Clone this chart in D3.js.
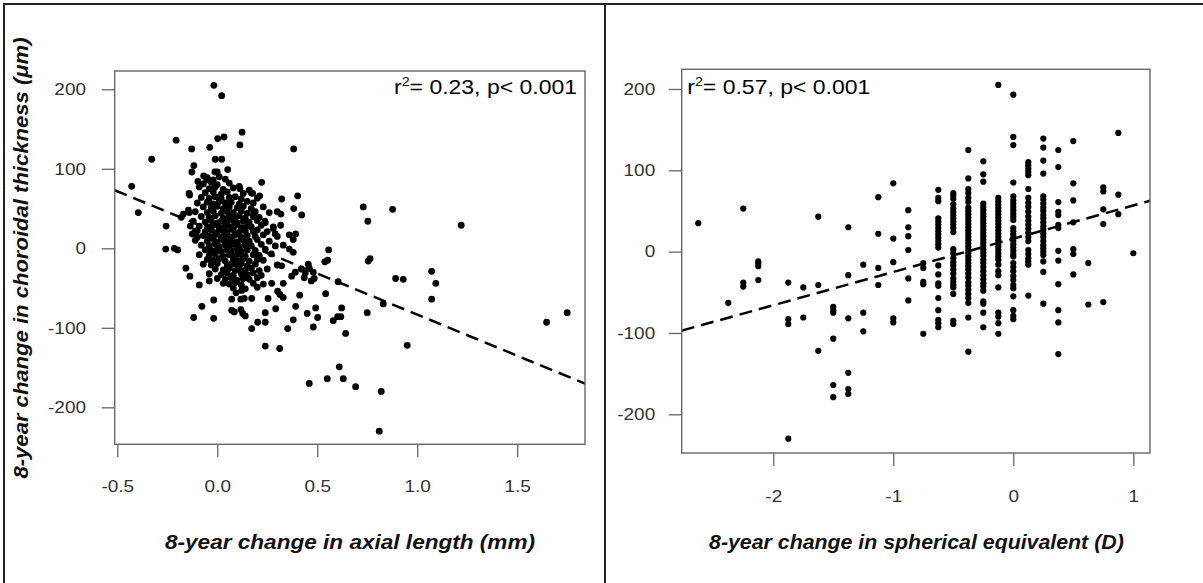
<!DOCTYPE html>
<html><head><meta charset="utf-8">
<script src="https://cdn.jsdelivr.net/npm/d3@7"></script>
<style>
html,body{margin:0;padding:0;background:#fff;}
svg{display:block;}
text{font-family:"Liberation Sans",Arial,Helvetica,sans-serif;}
</style></head><body>
<svg id="chart" width="1203" height="583"></svg>
<script>
// ---------------- DATA ----------------
// Left panel: 8-year change in axial length (mm) vs change in choroidal thickness (µm)
const axialOuter = [
 [-0.017,205],[0.022,192],[-0.206,136],[-0.328,112],[-0.428,78],[-0.395,45],[-0.256,28],[-0.258,-1],[-0.215,0],[-0.198,-2],
 [-0.128,125],[-0.038,127],[0.002,138],[0.034,140],[0.124,146],[0.113,130],[0.382,125],
 [-0.117,104],[-0.127,96],[-0.097,84],[-0.141,69],[-0.138,67],[-0.068,91],[-0.053,86],[-0.01,112],[0.022,112],[-0.012,96],[0.0,96],
 [0.052,99],[0.222,83],[0.113,75],[0.16,73],[0.177,69],[0.212,66],[0.322,62],[0.402,66],[0.382,50],[0.422,42],[0.3,46],[0.318,43],
 [0.238,34],[0.183,44],[0.317,29],[0.392,18],[0.28,25],[0.29,18],[0.36,17],[0.38,11],[0.36,-1],[0.38,-5],
 [0.557,-2],[0.552,-15],[0.538,-17],[-0.17,43],[-0.18,39],[-0.14,45],[-0.145,48],[-0.135,28],[-0.125,18],[-0.1,14],[-0.11,22],
 [0.73,52],[0.877,49],[0.753,34],[1.22,29],
 [-0.157,-25],[-0.137,-35],[-0.09,-46],[-0.04,-41],[-0.018,-65],[-0.077,-73],[-0.118,-87],[-0.018,-88],
 [0.072,-64],[0.118,-64],[0.135,-63],[0.172,-63],[0.094,-56],[0.122,-53],[0.072,-78],[0.085,-80],[0.118,-77],[0.127,-82],[0.14,-85],
 [0.172,-101],[0.202,-93],[0.24,-93],[0.24,-81],[0.24,-123],[0.312,-126],[0.254,-63],[0.272,-44],[0.292,-76],[0.302,-54],[0.313,-58],
 [0.33,-62],[0.33,-44],[0.322,-22],[0.352,-101],[0.38,-90],[0.392,-73],[0.412,-59],
 [0.39,-30],[0.42,-26],[0.44,-31],[0.46,-25],[0.48,-30],[0.485,-38],[0.455,-20],[0.435,-37],[0.47,-41],[0.372,-35],
 [0.45,-82],[0.48,-99],[0.492,-75],[0.502,-87],[0.46,-170],[0.542,-57],[0.604,-42],[0.55,-164],[0.61,-149],[0.63,-164],[0.692,-174],
 [0.58,-91],[0.602,-86],[0.618,-86],[0.622,-75],[0.642,-107],
 [0.755,-16],[0.764,-13],[0.75,-81],[0.83,-70],[0.892,-38],[0.93,-39],[0.95,-122],[1.072,-29],[1.093,-44],[1.072,-64],
 [0.82,-180],[0.81,-230],[1.647,-93],[1.75,-81]
];
const axialCore = [
 [-0.05,89],[-0.02,86],[0.01,90],[0.04,87],
 [-0.07,81],[-0.03,83],[0.0,80],[0.06,82],
 [-0.09,77],[-0.04,75],[-0.01,77],[0.03,74],[0.08,76],[0.11,78],
 [-0.06,70],[-0.02,71],[0.02,68],[0.05,71],[0.13,69],[0.17,70],
 [-0.08,64],[-0.04,63],[-0.01,65],[0.02,62],[0.06,64],[0.09,65],[0.12,62],[0.2,63],
 [-0.1,57],[-0.05,58],[-0.02,56],[0.01,59],[0.04,57],[0.07,58],[0.11,56],[0.15,59],[0.18,57],
 [-0.07,52],[-0.03,51],[0.0,53],[0.03,50],[0.06,52],[0.1,51],[0.13,53],[0.17,50],[0.23,52],
 [-0.11,46],[-0.05,45],[-0.02,47],[0.02,44],[0.05,46],[0.08,45],[0.12,47],[0.15,44],[0.19,46],[0.26,45],
 [-0.08,40],[-0.04,39],[-0.01,41],[0.03,38],[0.06,40],[0.09,39],[0.11,41],[0.14,38],[0.18,40],[0.21,39],
 [-0.12,34],[-0.06,33],[-0.03,35],[0.0,32],[0.02,34],[0.05,33],[0.08,35],[0.1,32],[0.13,34],[0.16,33],[0.2,35],[0.24,32],
 [-0.09,28],[-0.05,27],[-0.02,29],[0.01,26],[0.04,28],[0.07,27],[0.09,29],[0.12,26],[0.15,28],[0.17,27],[0.22,29],[0.28,27],
 [-0.1,22],[-0.06,21],[-0.03,23],[0.0,20],[0.03,22],[0.05,21],[0.08,23],[0.11,20],[0.14,22],[0.18,21],[0.2,23],[0.25,21],
 [-0.07,16],[-0.04,15],[-0.01,17],[0.02,14],[0.04,16],[0.06,15],[0.09,17],[0.12,14],[0.15,16],[0.19,15],[0.23,17],[0.3,15],
 [-0.11,10],[-0.05,9],[-0.02,11],[0.0,8],[0.03,10],[0.05,9],[0.07,11],[0.1,8],[0.13,10],[0.16,9],[0.2,11],[0.26,9],
 [-0.08,4],[-0.04,3],[-0.01,5],[0.01,2],[0.04,4],[0.06,3],[0.08,5],[0.11,2],[0.14,4],[0.17,3],[0.22,5],[0.29,3],[0.33,4],
 [-0.06,-2],[-0.03,-3],[0.0,-1],[0.02,-4],[0.05,-2],[0.07,-3],[0.1,-1],[0.12,-4],[0.15,-2],[0.19,-3],[0.24,-1],
 [-0.09,-8],[-0.04,-9],[-0.01,-7],[0.03,-10],[0.06,-8],[0.09,-9],[0.11,-7],[0.14,-10],[0.18,-8],[0.21,-9],[0.27,-7],
 [-0.05,-14],[-0.02,-15],[0.01,-13],[0.04,-16],[0.08,-14],[0.1,-15],[0.13,-13],[0.16,-16],[0.2,-14],[0.23,-15],
 [-0.07,-20],[-0.03,-21],[0.0,-19],[0.05,-22],[0.07,-20],[0.1,-21],[0.12,-19],[0.15,-22],[0.19,-20],[0.3,-21],
 [-0.01,-26],[0.03,-27],[0.06,-25],[0.09,-28],[0.11,-26],[0.14,-27],[0.17,-25],[0.21,-28],[0.25,-26],
 [-0.04,-32],[0.02,-33],[0.05,-31],[0.08,-34],[0.12,-32],[0.15,-33],[0.18,-31],[0.22,-34],
 [0.0,-38],[0.04,-39],[0.07,-37],[0.1,-40],[0.13,-38],[0.16,-39],[0.2,-37],
 [0.03,-44],[0.06,-45],[0.09,-43],[0.12,-46],[0.18,-44],[0.23,-45],
 [0.08,-50],[0.14,-51],[0.2,-49]
];
// Right panel: spherical equivalent change (D), grouped by SE value -> choroidal thickness change values
const seColumns = [
 [-2.625,[35]],
 [-2.375,[-63]],
 [-2.25,[53,-38,-43]],
 [-2.125,[-12,-15,-18,-35]],
 [-1.875,[-38,-83,-89,-230]],
 [-1.75,[-44,-81]],
 [-1.625,[43,-41,-122]],
 [-1.5,[-68,-72,-75,-107,-164,-179]],
 [-1.375,[30,-29,-82,-149,-169,-175]],
 [-1.25,[-16,-75,-98]],
 [-1.125,[67,22,-20,-41]],
 [-1.0,[84,16,-13,-82,-87]],
 [-0.875,[51,30,19,2,-33,-60]],
 [-0.75,[-14,-20,-37,-40,-101]],
 [-0.625,[76,66,62,41,37,33,29,25,21,17,13,9,5,-17,-28,-39,-42,-57,-72,-84,-88,-93]],
 [-0.5,[72,69,65,58,53,49,45,41,37,33,29,24,3,-2,-8,-13,-17,-22,-27,-33,-37,-41,-44,-52,-85,-89]],
 [-0.375,[125,90,77,72,66,61,54,50,46,42,38,34,30,26,22,18,14,10,6,2,-2,-6,-10,-14,-18,-22,-27,-32,-38,-42,-47,-52,-57,-63,-81,-123]],
 [-0.25,[111,95,86,59,55,51,47,43,39,35,31,27,23,19,15,11,7,3,-1,-5,-10,-14,-19,-24,-29,-34,-39,-43,-48,-61,-64,-75,-93]],
 [-0.125,[205,66,62,58,54,50,46,42,38,34,30,26,22,18,14,10,6,2,-2,-6,-10,-16,-24,-29,-44,-75,-80,-88,-101]],
 [0,[193,141,131,85,68,63,59,55,51,47,43,39,29,25,21,17,13,9,5,1,-3,-6,-14,-19,-24,-30,-35,-41,-45,-55,-72,-79,-83]],
 [0.125,[110,106,102,98,94,77,66,60,55,49,43,38,33,28,23,18,13,2,-3,-8,-12,-16,-54]],
 [0.25,[139,128,112,96,68,64,59,54,50,45,41,36,31,27,22,18,13,8,4,0,-4,-12,-25,-64]],
 [0.375,[125,104,61,49,45,33,29,1,-11,-40,-72,-87,-126]],
 [0.5,[136,84,63,36,3,-3,-28]],
 [0.625,[-14,-65]],
 [0.75,[79,74,52,34,-62]],
 [0.875,[146,70,46]],
 [1.0,[-2]]
];
const axialTicks = [-0.5, 0.0, 0.5, 1.0, 1.5];
const axialTickLabels = ["-0.5","0.0","0.5","1.0","1.5"];
const seTicks = [-2, -1, 0, 1];
const seTickLabels = ["-2","-1","0","1"];
const thicknessTicks = [-200, -100, 0, 100, 200];
const thicknessTickLabels = ["-200","-100","0","100","200"];
const axialFit = [20, -103.4];   // intercept, slope
const seFit = [15.9, 40.9];      // intercept, slope
const axialStat = ["0.23", "0.001"];
const seStat = ["0.57", "0.001"];
const yTitle = "8-year change in choroidal thickness (\u03bcm)";
const axialTitle = "8-year change in axial length (mm)";
const seTitle = "8-year change in spherical equivalent (D)";

// ---------------- DRAW ----------------
const svg = d3.select("#chart");
svg.append("rect").attr("width",1203).attr("height",583).attr("fill","#fff");

// outer frame lines
const frame = svg.append("g").attr("stroke","#222").attr("stroke-width",2);
frame.append("line").attr("x1",3).attr("x2",1203).attr("y1",4).attr("y2",4);
frame.append("line").attr("x1",4).attr("x2",4).attr("y1",3).attr("y2",583);
frame.append("line").attr("x1",605).attr("x2",605).attr("y1",3).attr("y2",583);

const STRETCH = 1.15;

function drawPanel(cfg) {
  const x = d3.scaleLinear().domain(cfg.xDomain).range([cfg.left, cfg.right]);
  const y = d3.scaleLinear().domain(cfg.yDomain).range([cfg.bottom, cfg.top]);
  const g = svg.append("g");

  // points
  g.append("g").selectAll("circle").data(cfg.points).join("circle")
    .attr("cx", d => x(d[0])).attr("cy", d => y(d[1]))
    .attr("r", cfg.r).attr("fill", "#000");

  // regression line
  const xd = cfg.xDomain;
  g.append("line")
    .attr("x1", x(xd[0])).attr("y1", y(cfg.fit[0] + cfg.fit[1]*xd[0]))
    .attr("x2", x(xd[1])).attr("y2", y(cfg.fit[0] + cfg.fit[1]*xd[1]))
    .attr("stroke","#000").attr("stroke-width",2.5).attr("stroke-dasharray","13,7");

  // box
  g.append("rect").attr("x",cfg.left).attr("y",cfg.top)
    .attr("width",cfg.right-cfg.left).attr("height",cfg.bottom-cfg.top)
    .attr("fill","none").attr("stroke","#666").attr("stroke-width",1.4);

  // y axis
  const ya = g.append("g").attr("transform",`translate(${cfg.left},0)`)
    .call(d3.axisLeft(y).tickValues(thicknessTicks)
      .tickFormat((d,i) => thicknessTickLabels[i]).tickSize(13).tickPadding(cfg.yPad));
  ya.select(".domain").remove();
  ya.selectAll(".tick line").attr("stroke","#666").attr("stroke-width",1.3);
  ya.selectAll(".tick text").attr("font-size",16.5).attr("fill","#333")
    .attr("font-family",'"Liberation Sans",Arial,sans-serif')
    .attr("x", -(13+cfg.yPad)/STRETCH).attr("transform",`scale(${STRETCH},1)`);

  // x axis
  const xa = g.append("g").attr("transform",`translate(0,${cfg.bottom})`)
    .call(d3.axisBottom(x).tickValues(cfg.xTicks)
      .tickFormat((d,i) => cfg.xTickLabels[i]).tickSize(13).tickPadding(cfg.xPad));
  xa.select(".domain").remove();
  xa.selectAll(".tick line").attr("stroke","#666").attr("stroke-width",1.3);
  xa.selectAll(".tick text").attr("font-size",16.5).attr("fill","#333")
    .attr("font-family",'"Liberation Sans",Arial,sans-serif')
    .attr("transform",`scale(${STRETCH},1)`);

  // x title
  g.append("text").attr("x", cfg.xTitleX - cfg.xTitleLen/2).attr("y", 549)
    .attr("font-size",20).attr("font-weight","bold").attr("font-style","italic")
    .attr("fill","#111").attr("textLength",cfg.xTitleLen).attr("lengthAdjust","spacingAndGlyphs")
    .text(cfg.xTitle);

  // annotation
  const t = g.append("text").attr("x", cfg.annX).attr("y", 94)
    .attr("font-size",21).attr("fill","#000")
    .attr("textLength",183).attr("lengthAdjust","spacingAndGlyphs");
  t.append("tspan").text("r");
  t.append("tspan").attr("font-size",13).attr("dy",-8).text("2");
  t.append("tspan").attr("dy",8).text(`= ${cfg.stat[0]}, p< ${cfg.stat[1]}`);
}

drawPanel({
  points: axialOuter.concat(axialCore),
  xDomain: [-0.513, 1.839], yDomain: [-246.5, 223],
  left: 114.7, right: 585, top: 71, bottom: 444.3,
  r: 3.4, fit: axialFit,
  xTicks: axialTicks, xTickLabels: axialTickLabels,
  yPad: 15.7, xPad: 23,
  xTitle: axialTitle, xTitleX: 350, xTitleLen: 370,
  annX: 394, stat: axialStat
});

const sePoints = [];
seColumns.forEach(([se, vals]) => vals.forEach(v => sePoints.push([se, v])));

drawPanel({
  points: sePoints,
  xDomain: [-2.763, 1.139], yDomain: [-247.6, 224.2],
  left: 681.7, right: 1150, top: 69.3, bottom: 453,
  r: 3.1, fit: seFit,
  xTicks: seTicks, xTickLabels: seTickLabels,
  yPad: 13.5, xPad: 24,
  xTitle: seTitle, xTitleX: 916.4, xTitleLen: 414.7,
  annX: 687.3, stat: seStat
});

// shared y title (left)
svg.append("text").attr("transform","translate(28,258) rotate(-90)")
  .attr("text-anchor","start").attr("x",-220.5)
  .attr("font-size",20).attr("font-weight","bold").attr("font-style","italic")
  .attr("fill","#111").attr("textLength",441).attr("lengthAdjust","spacingAndGlyphs")
  .text(yTitle);
</script>
</body></html>
